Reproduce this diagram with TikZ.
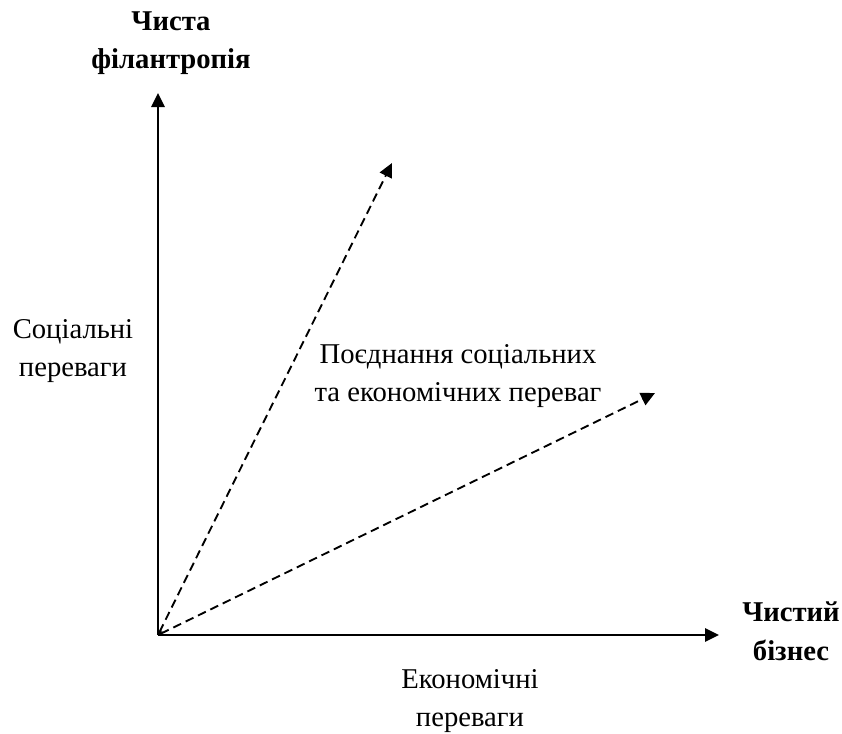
\documentclass[tikz,border=0pt]{standalone}
\usepackage{fontspec}
\setmainfont{Liberation Serif}
\usetikzlibrary{arrows.meta}

\begin{document}
\begin{tikzpicture}[x=0.75pt,y=-0.75pt]
\tikzstyle{txtonly}=[align=center, inner sep=0pt, font=\fontsize{21.5pt}{29pt}\selectfont]
\tikzstyle{txtbold}=[txtonly, font=\fontsize{21.5pt}{29pt}\selectfont\bfseries]
\tikzstyle{axis}=[line width=1.5pt, -{Triangle[length=10.5pt,width=10pt]}]
\tikzstyle{mix}=[line width=1.4pt, dash pattern=on 6.5pt off 3.8pt,
  {Stealth[length=4pt,width=4pt]}-{Triangle[length=10.5pt,width=10pt]}]
\useasboundingbox (0,0) rectangle (842,733);
% axes
\coordinate (O) at (158,635);
\coordinate (Ytop) at (158,93);
\coordinate (Xend) at (719,635);
\coordinate (D1) at (392,163);
\coordinate (D2) at (655,393);
\draw [axis] (O) -- (Ytop);
\draw [axis] (O) -- (Xend);
\draw [mix] (O) -- (D1);
\draw [mix] (O) -- (D2);
% labels
\node (phil) [txtbold] at (171,43) {Чиста\\філантропія};
\node (bus) [txtbold] at (791,631) {Чистий\\бізнес};
\node (soc) [txtonly] at (73,351) {Соціальні\\переваги};
\node (eco) [txtonly] at (470,701) {Економічні\\переваги};
\node (both) [txtonly] at (458,376) {Поєднання соціальних\\та економічних переваг};
\end{tikzpicture}
\end{document}
